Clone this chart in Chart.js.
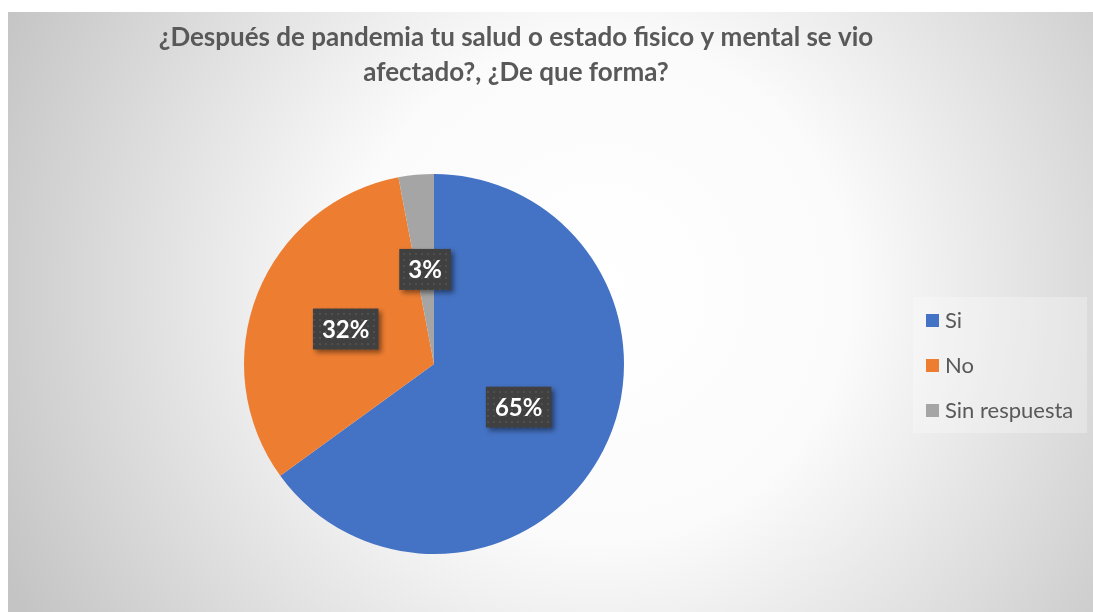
<!DOCTYPE html>
<html>
<head>
<meta charset="utf-8">
<script src="https://cdn.jsdelivr.net/npm/chart.js@4.4.1/dist/chart.umd.min.js"></script>
<style>
	html, body { margin: 0; padding: 0; background: #fff; }
	#wrap { width: 1093px; height: 612px; position: relative; }
</style>
</head>
<body>
<div id="wrap"><canvas id="chart01"></canvas></div>
<script>
const labels = ["Si", "No", "Sin respuesta"];
const values = [65, 32, 3];
const colors = ["#4472C4", "#ED7D31", "#A5A5A5"];
const titleLines = ["¿Después de pandemia tu salud o estado fisico y mental se vio", "afectado?, ¿De que forma?"];

const FONT = "Lato, 'Open Sans', sans-serif";

// dotted dark fill for the data label boxes
function makePattern(ctx) {
	const c = document.createElement("canvas");
	c.width = 6;
	c.height = 6;
	const p = c.getContext("2d");
	p.fillStyle = "#404040";
	p.fillRect(0, 0, 6, 6);
	p.fillStyle = "#4f4f4f";
	p.fillRect(1, 1, 2, 2);
	return ctx.createPattern(c, "repeat");
}

const backgroundPlugin = {
	id: "background",
	beforeDraw(chart) {
		const { ctx, width, height } = chart;
		ctx.save();
		ctx.fillStyle = "#ffffff";
		ctx.fillRect(0, 0, width, height);
		const g = ctx.createRadialGradient(600, 290, 0, 600, 290, 660);
		g.addColorStop(0, "#ffffff");
		g.addColorStop(0.38, "#fbfbfb");
		g.addColorStop(1, "#c4c4c4");
		ctx.fillStyle = g;
		ctx.fillRect(8, 12, width - 8, height - 12);
		ctx.restore();
	},
};

// title centred on the whole chart, not on the pie area
const titlePlugin = {
	id: "wideTitle",
	afterDraw(chart) {
		const { ctx } = chart;
		ctx.save();
		ctx.font = "bold 26px " + FONT;
		ctx.fillStyle = "#595959";
		ctx.textAlign = "center";
		ctx.textBaseline = "middle";
		titleLines.forEach((line, i) => {
			ctx.fillText(line, 516, 38 + i * 35);
		});
		ctx.restore();
	},
};

const labelPlugin = {
	id: "boxLabels",
	afterDatasetsDraw(chart) {
		const { ctx } = chart;
		const meta = chart.getDatasetMeta(0);
		const total = values.reduce((a, b) => a + b, 0);
		const pattern = makePattern(ctx);
		ctx.save();
		ctx.font = "bold 24px " + FONT;
		ctx.textAlign = "center";
		ctx.textBaseline = "middle";
		meta.data.forEach((arc, i) => {
			const pos = arc.tooltipPosition();
			const text = Math.round((values[i] / total) * 100) + "%";
			const w = ctx.measureText(text).width + 18;
			const h = 41;
			const x = pos.x - w / 2;
			const y = pos.y - h / 2;
			ctx.save();
			ctx.shadowColor = "rgba(0,0,0,0.45)";
			ctx.shadowBlur = 5;
			ctx.shadowOffsetX = 3;
			ctx.shadowOffsetY = 3;
			ctx.fillStyle = pattern;
			ctx.fillRect(x, y, w, h);
			ctx.restore();
			ctx.fillStyle = "#ffffff";
			ctx.fillText(text, pos.x, pos.y + 1);
		});
		ctx.restore();
	},
};

const legendPlugin = {
	id: "sideLegend",
	afterDraw(chart) {
		const { ctx } = chart;
		ctx.save();
		ctx.fillStyle = "rgba(255,255,255,0.28)";
		ctx.fillRect(913, 297, 174, 136);
		ctx.font = "22px " + FONT;
		ctx.textBaseline = "middle";
		ctx.textAlign = "left";
		labels.forEach((label, i) => {
			const cy = 320 + i * 45;
			ctx.fillStyle = colors[i];
			ctx.fillRect(926, cy - 6, 13, 13);
			ctx.fillStyle = "#595959";
			ctx.fillText(label, 945, cy + 1);
		});
		ctx.restore();
	},
};

const data = {
	labels,
	datasets: [
		{
			data: values,
			backgroundColor: colors,
			borderWidth: 0,
			hoverOffset: 0,
		},
	],
};

const options = {
	responsive: true,
	maintainAspectRatio: false,
	animation: false,
	events: [],
	rotation: 0,
	layout: {
		padding: { left: 244, right: 469, top: 174, bottom: 58 },
	},
	plugins: {
		legend: { display: false },
		tooltip: { enabled: false },
		title: { display: false },
	},
};

new Chart(document.querySelector("#chart01"), {
	type: "pie",
	data,
	options,
	plugins: [backgroundPlugin, labelPlugin, legendPlugin, titlePlugin],
});
</script>
</body>
</html>
